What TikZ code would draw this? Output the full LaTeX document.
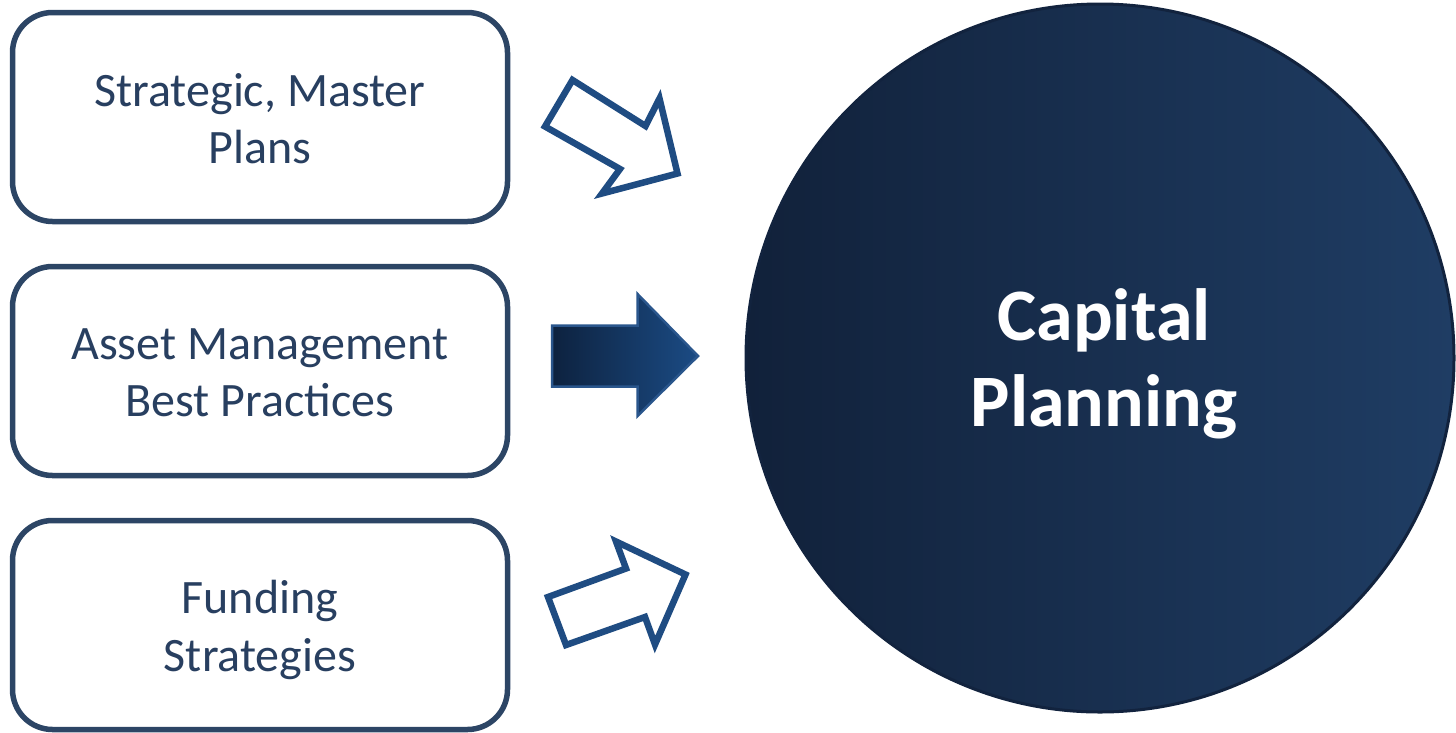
\documentclass[tikz,border=0pt]{standalone}
\usepackage{fontspec}
\setmainfont{Carlito}
\definecolor{boxline}{HTML}{2C4565}
\definecolor{boxtext}{HTML}{283F60}
\definecolor{arrline}{HTML}{1F4C82}
\definecolor{circL}{HTML}{11213A}
\definecolor{circR}{HTML}{1F3D64}
\definecolor{circB}{HTML}{12233E}
\definecolor{arrL}{HTML}{0D223F}
\definecolor{arrR}{HTML}{1B4B84}
\definecolor{arrB}{HTML}{2A568C}
\begin{document}
\begin{tikzpicture}[x=1pt,y=-1pt,
  srcbox/.style={draw=boxline, line width=5.5pt, rounded corners=40pt, fill=white,
    minimum width=495pt, minimum height=209pt, inner sep=0pt},
  srctxt/.style={anchor=base, text=boxtext, font=\fontsize{48}{57}\selectfont, inner sep=0pt},
  bigtxt/.style={anchor=base, text=white, font=\fontsize{74}{86}\bfseries\selectfont, inner sep=0pt},
  hollowarrow/.style={draw=arrline, line width=6.5pt, line join=miter, fill=white}]
\useasboundingbox (0,0) rectangle (1456,732);

% boxes
\node[srcbox] (b1) at (260,117) {};
\node[srcbox] (b2) at (260,371) {};
\node[srcbox] (b3) at (260,625) {};

\node[srctxt] (t1a) at (260,106) {Strategic, Master};
\node[srctxt] (t1b) at (260,163) {Plans};
\node[srctxt] (t2a) at (260,359) {Asset Management};
\node[srctxt] (t2b) at (260,416) {Best Practices};
\node[srctxt] (t3a) at (260,613) {Funding};
\node[srctxt] (t3b) at (260,671) {Strategies};

% circle
\shade[left color=circL, right color=circR] (1100,358) circle[radius=354];
\draw[circB, line width=3pt] (1100,358) circle[radius=354];
\node[bigtxt] (c1) at (1104,340) {Capital};
\node[bigtxt] (c2) at (1104,426) {Planning};

% top arrow (hollow, pointing down-right)
\draw[hollowarrow] (572.5,80) -- (645.5,126) -- (659.5,98.5) -- (677.5,173.5)
  -- (602,193.5) -- (620,169) -- (545,126.5) -- cycle;

% middle arrow (filled gradient)
\shade[left color=arrL, right color=arrR] (552,325.5) -- (637.5,325.5) -- (637.5,294)
  -- (698,356) -- (637.5,416) -- (637.5,386.5) -- (552,386.5) -- cycle;
\draw[arrB, line width=2.5pt, line join=miter] (552,325.5) -- (637.5,325.5) -- (637.5,294)
  -- (698,356) -- (637.5,416) -- (637.5,386.5) -- (552,386.5) -- cycle;

% bottom arrow (hollow, pointing up-right)
\draw[hollowarrow] (548,597) -- (626,568.5) -- (616,541.5) -- (685.5,574.5)
  -- (655,644.5) -- (645,617) -- (566,645) -- cycle;
\end{tikzpicture}
\end{document}
